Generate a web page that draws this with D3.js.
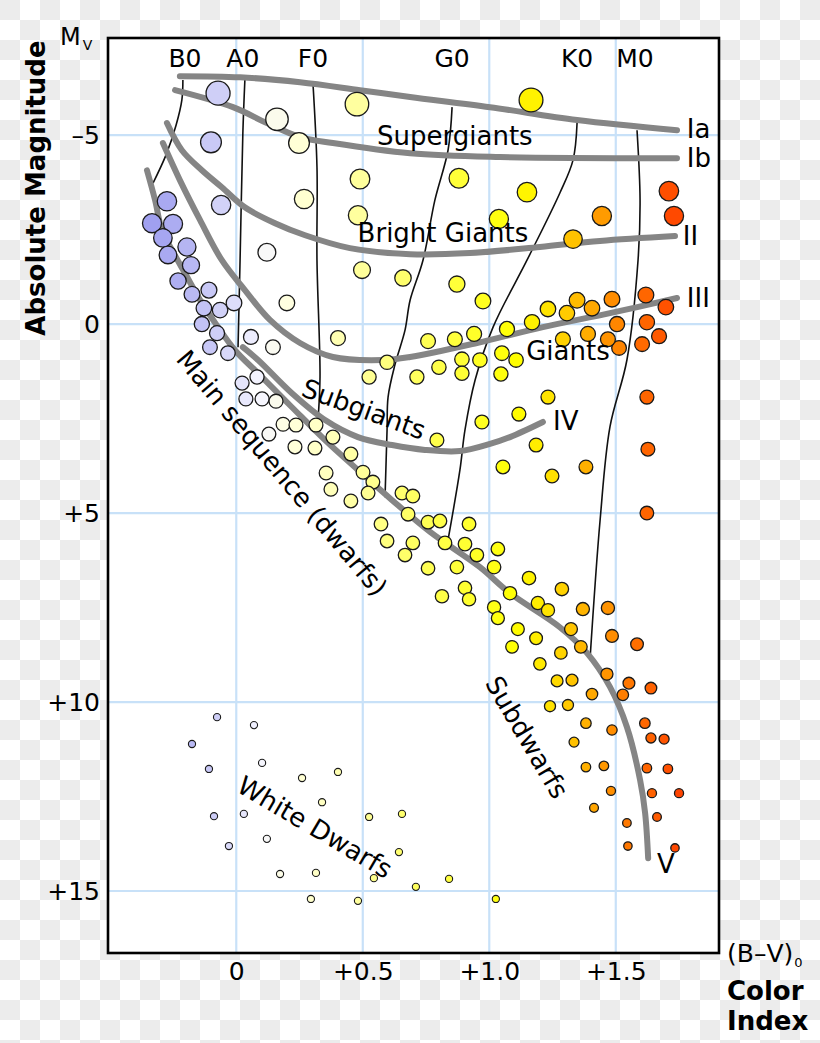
<!DOCTYPE html>
<html><head><meta charset="utf-8">
<script src="https://cdn.jsdelivr.net/npm/d3@7"></script>
<style>
html,body{margin:0;padding:0;background:#fff;}
svg{display:block;font-family:"DejaVu Sans",sans-serif;}
</style></head><body>
<svg id="chart" width="820" height="1043"></svg>
<script>
// ---------- data ----------
const xTicks = [0, 0.5, 1.0, 1.5];
const xTickLabels = ["0", "+0.5", "+1.0", "+1.5"];
const yTicks = [-5, 0, 5, 10, 15];
const yTickLabels = ["–5", "0", "+5", "+10", "+15"];

const spectralTypes = ["B0", "A0", "F0", "G0", "K0", "M0"];
const spectralBV = [-0.203, 0.026, 0.303, 0.853, 1.347, 1.576];
const spectralLabelMag = -6.80;

const classLabels = ["Ia", "Ib", "II", "III", "IV", "V"];
const classBV = [1.781, 1.781, 1.765, 1.781, 1.252, 1.663];
const classMag = [-4.92, -4.15, -2.09, -0.45, 2.80, 14.52];

const regionNames = ["Supergiants", "Bright Giants", "Giants", "Subgiants", "Main sequence (dwarfs)", "Subdwarfs", "White Dwarfs"];
const regionBV = [0.864, 0.817, 1.311, 0.504, 0.181, 1.149, 0.311];
const regionMag = [-4.97, -2.41, 0.71, 2.25, 3.94, 10.93, 13.31];
const regionAngle = [0, 0, 0, 20, 50, 59.5, 30.5];

// luminosity-class sequences [B-V, Mv]
const curveIa = [[-0.223,-6.56],[0.015,-6.53],[0.252,-6.40],[0.489,-6.19],[0.687,-6.01],[1.003,-5.74],[1.347,-5.40],[1.742,-5.13]];
const curveIb = [[-0.242,-6.19],[-0.013,-5.74],[0.121,-5.32],[0.252,-4.95],[0.382,-4.79],[0.687,-4.52],[1.042,-4.42],[1.742,-4.39]];
const curveII = [[-0.274,-5.32],[-0.215,-4.60],[-0.136,-4.07],[-0.057,-3.62],[0.034,-3.09],[0.153,-2.67],[0.272,-2.35],[0.449,-2.01],[0.687,-1.85],[0.924,-1.88],[1.2,-2.04],[1.437,-2.20],[1.734,-2.33]];
const curveIII = [[-0.290,-4.79],[-0.223,-3.81],[-0.143,-2.75],[-0.057,-1.69],[0.034,-0.90],[0.133,-0.11],[0.252,0.50],[0.382,0.87],[0.580,0.95],[0.687,0.87],[0.951,0.50],[1.212,0.08],[1.477,-0.29],[1.742,-0.69]];
const curveIV = [[0.026,0.61],[0.086,0.95],[0.220,1.83],[0.351,2.54],[0.481,2.99],[0.616,3.20],[0.746,3.33],[0.884,3.36],[1.003,3.17],[1.082,2.99],[1.212,2.59]];
const curveV = [[-0.353,-4.07],[-0.321,-3.28],[-0.294,-2.49],[-0.254,-1.96],[-0.203,-1.35],[-0.136,-0.56],[-0.072,0.08],[-0.005,0.69],[0.086,1.30],[0.220,2.20],[0.351,3.07],[0.481,3.86],[0.616,4.66],[0.766,5.50],[0.963,6.43],[1.082,7.12],[1.279,8.02],[1.386,8.70],[1.477,9.60],[1.544,10.66],[1.596,12.06],[1.616,12.94],[1.628,14.13]];

// spectral-type boundary lines
const lineB0 = [[-0.211,-6.46],[-0.215,-5.93],[-0.238,-5.26],[-0.278,-4.47],[-0.329,-3.73]];
const lineA0 = [[0.034,-6.46],[0.026,-5.05],[0.015,-1.69],[0.007,0.61]];
const lineF0 = [[0.303,-6.38],[0.319,-4.15],[0.319,-1.69],[0.331,1.40],[0.323,2.54]];
const lineG0 = [[0.853,-5.74],[0.837,-4.60],[0.785,-3.28],[0.738,-1.69],[0.687,-0.63],[0.667,0.16],[0.627,1.08],[0.600,1.93],[0.596,2.80],[0.588,4.58]];
const lineK0 = [[1.347,-5.32],[1.331,-4.34],[1.279,-3.47],[1.149,-1.69],[1.015,0.08],[0.944,1.48],[0.904,2.80],[0.884,3.86],[0.837,5.71]];
const lineM0 = [[1.584,-5.13],[1.596,-3.28],[1.588,-1.69],[1.544,0.95],[1.477,2.72],[1.438,5.19],[1.398,8.89]];

// stars [B-V, Mv]
const stars = [
[-0.072,-6.11],[0.161,-5.42],[-0.100,-4.81],[0.248,-4.79],[0.477,-5.82],[1.165,-5.93],[0.489,-3.84],[0.880,-3.86],
[1.149,-3.49],[0.268,-3.31],[-0.060,-3.15],[0.481,-2.88],[1.038,-2.78],[1.445,-2.86],[1.331,-2.25],[1.710,-3.52],
[1.730,-2.86],[0.121,-1.90],[-0.274,-3.25],[-0.333,-2.67],[-0.250,-2.65],[-0.290,-2.28],[-0.270,-1.83],[-0.195,-2.04],
[-0.179,-1.56],[-0.230,-1.14],[-0.175,-0.79],[-0.108,-0.90],[-0.128,-0.42],[-0.064,-0.37],[-0.009,-0.56],[-0.136,0],
[-0.076,0.24],[-0.104,0.61],[-0.033,0.77],[0.058,0.34],[0.145,0.61],[0.200,-0.56],[0.023,1.56],[0.082,1.40],
[0.038,1.98],[0.102,1.98],[0.157,2.04],[0.129,2.91],[0.185,2.65],[0.236,2.67],[0.315,2.67],[0.232,3.25],
[0.311,3.28],[0.382,2.99],[0.453,3.44],[0.355,3.94],[0.501,3.92],[0.540,4.18],[0.374,4.37],[0.521,4.47],
[0.453,4.68],[0.655,4.47],[0.698,4.55],[0.679,5.03],[0.572,5.29],[0.596,5.74],[0.667,6.11],[0.758,5.24],
[0.805,5.21],[0.920,5.29],[0.698,5.79],[0.825,5.79],[0.904,5.82],[0.951,6.11],[1.034,5.95],[0.758,6.46],
[0.872,6.43],[1.019,6.43],[0.813,7.20],[0.904,6.98],[0.920,7.28],[1.157,6.72],[1.287,7.01],[1.082,7.12],
[1.192,7.38],[1.232,7.57],[1.370,7.54],[1.469,7.51],[1.019,7.49],[1.034,7.78],[1.113,8.07],[1.185,8.31],
[1.323,8.07],[1.485,8.25],[1.584,8.47],[1.090,8.54],[1.283,8.70],[1.362,8.54],[1.200,8.99],[1.465,9.26],
[1.552,9.50],[1.639,9.63],[1.528,9.81],[1.268,9.44],[1.327,9.42],[1.406,9.79],[1.240,10.11],[1.311,10.08],
[1.382,10.56],[1.485,10.74],[1.615,10.56],[1.639,10.95],[1.691,10.98],[1.335,11.06],[1.382,11.72],[1.453,11.69],
[1.623,11.75],[1.706,11.77],[1.481,12.35],[1.414,12.80],[1.643,12.41],[1.750,12.41],[1.663,13.04],[1.544,13.20],
[1.548,13.81],[1.734,13.86],[0.402,0.37],[0.596,1.01],[0.525,1.40],[0.714,1.40],[0.497,-1.43],[0.659,-1.22],
[0.872,-1.06],[0.975,-0.61],[0.758,0.45],[0.864,0.40],[0.940,0.26],[1.070,0.13],[1.169,-0.05],[1.232,-0.40],
[1.307,-0.29],[1.347,-0.63],[1.406,-0.42],[1.485,-0.66],[1.619,-0.77],[1.698,-0.45],[1.505,0],[1.623,-0.05],
[1.671,0.32],[1.604,0.53],[1.513,0.63],[1.469,0.40],[1.390,0.26],[1.291,0.40],[0.801,1.14],[0.892,0.93],
[0.892,1.30],[0.963,0.95],[1.050,0.77],[1.106,0.95],[1.046,1.32],[1.232,1.93],[1.117,2.38],[0.971,2.59],
[0.793,3.07],[1.185,3.20],[1.054,3.78],[1.248,4.02],[1.382,3.78],[1.623,1.93],[1.627,3.31],[1.623,5.00]
];

const whiteDwarfs = [
[-0.076,10.40],[0.070,10.61],[-0.175,11.11],[0.102,11.61],[-0.108,11.77],[0.260,12.01],[0.402,11.85],[-0.088,13.02],
[0.030,12.96],[-0.029,13.81],[0.121,13.62],[0.339,12.65],[0.525,13.04],[0.655,12.96],[0.643,13.97],[0.173,14.55],
[0.315,14.52],[0.544,14.66],[0.295,15.21],[0.481,15.26],[0.841,14.68],[0.710,14.89],[1.026,15.21]
];

// ---------- drawing ----------
const svg = d3.select("#chart");
const W = 820, H = 1043;
const plot = {left: 108, top: 38, right: 719, bottom: 953};

const x = d3.scaleLinear().domain([-0.507, 1.908]).range([plot.left, plot.right]);
const y = d3.scaleLinear().domain([-7.57, 16.64]).range([plot.top, plot.bottom]);

const color = d3.scaleLinear()
  .domain([-0.35, -0.2, -0.05, 0.1, 0.2, 0.35, 0.5, 0.7, 0.9, 1.1, 1.25, 1.35, 1.45, 1.55, 1.65, 1.75])
  .range(['#9d9df0', '#b4b4f2', '#d4d4f8', '#f6f6ff', '#ffffe0', '#ffffc0', '#ffff99', '#ffff60', '#ffff33', '#ffff00', '#ffe000', '#ffbb00', '#ff9900', '#ff7700', '#ff5f00', '#ff4400'])
  .interpolate(d3.interpolateRgb).clamp(true);
const radius = d3.scaleLinear()
  .domain([-6, -4.5, -2.5, -1, 1.5, 7, 9, 11, 13.5])
  .range([12, 10, 9.5, 8, 7, 6.7, 6.2, 5, 4.2]).clamp(true);

// checkerboard background
const defs = svg.append("defs");
const pat = defs.append("pattern").attr("id", "checker").attr("width", 40).attr("height", 40)
  .attr("patternUnits", "userSpaceOnUse");
pat.append("rect").attr("width", 40).attr("height", 40).attr("fill", "#ffffff");
pat.append("rect").attr("width", 20).attr("height", 20).attr("fill", "#ececec");
pat.append("rect").attr("x", 20).attr("y", 20).attr("width", 20).attr("height", 20).attr("fill", "#ececec");
svg.append("rect").attr("width", W).attr("height", H).attr("fill", "url(#checker)");

svg.append("rect").attr("x", plot.left).attr("y", plot.top)
  .attr("width", plot.right - plot.left).attr("height", plot.bottom - plot.top).attr("fill", "#fff");

// grid
const grid = svg.append("g").attr("stroke", "#c8e1f8").attr("stroke-width", 2.2);
grid.selectAll("line.gx").data(xTicks).join("line").attr("class", "gx")
  .attr("x1", d => x(d)).attr("x2", d => x(d)).attr("y1", plot.top).attr("y2", plot.bottom);
grid.selectAll("line.gy").data(yTicks).join("line").attr("class", "gy")
  .attr("y1", d => y(d)).attr("y2", d => y(d)).attr("x1", plot.left).attr("x2", plot.right);

const line = d3.line().x(d => x(d[0])).y(d => y(d[1])).curve(d3.curveCatmullRom.alpha(0.5));

// spectral type boundaries
svg.append("g").selectAll("path").data([lineB0, lineA0, lineF0, lineG0, lineK0, lineM0]).join("path")
  .attr("d", line).attr("fill", "none").attr("stroke", "#111").attr("stroke-width", 1.6);

// luminosity class sequences
svg.append("g").selectAll("path").data([curveIa, curveIb, curveII, curveIII, curveIV, curveV]).join("path")
  .attr("d", line).attr("fill", "none").attr("stroke", "#858585").attr("stroke-width", 6)
  .attr("stroke-linecap", "round");

// stars
svg.append("g").selectAll("circle").data(stars).join("circle")
  .attr("cx", d => x(d[0])).attr("cy", d => y(d[1])).attr("r", d => radius(d[1]))
  .attr("fill", d => color(d[0])).attr("stroke", "#1a1a1a").attr("stroke-width", 1.3);

svg.append("g").selectAll("circle").data(whiteDwarfs).join("circle")
  .attr("cx", d => x(d[0])).attr("cy", d => y(d[1])).attr("r", 3.6)
  .attr("fill", d => color(d[0])).attr("stroke", "#1a1a1a").attr("stroke-width", 1.1);

// frame
svg.append("rect").attr("x", plot.left).attr("y", plot.top)
  .attr("width", plot.right - plot.left).attr("height", plot.bottom - plot.top)
  .attr("fill", "none").attr("stroke", "#000").attr("stroke-width", 2.6);

// axes (labels only)
const xAxis = d3.axisBottom(x).tickValues(xTicks).tickFormat((d, i) => xTickLabels[i]).tickSize(0).tickPadding(9);
const gx = svg.append("g").attr("transform", `translate(0,${plot.bottom})`).call(xAxis);
const yAxis = d3.axisLeft(y).tickValues(yTicks).tickFormat((d, i) => yTickLabels[i]).tickSize(0).tickPadding(8);
const gy = svg.append("g").attr("transform", `translate(${plot.left},0)`).call(yAxis);
[gx, gy].forEach(g => {
  g.select(".domain").remove();
  g.selectAll("text").attr("font-family", "DejaVu Sans").attr("font-size", 25).attr("fill", "#000");
});

// spectral type labels
svg.append("g").selectAll("text").data(spectralTypes).join("text")
  .attr("x", (d, i) => x(spectralBV[i])).attr("y", y(spectralLabelMag))
  .attr("text-anchor", "middle").attr("font-size", 25).text(d => d);

// luminosity class labels
svg.append("g").selectAll("text").data(classLabels).join("text")
  .attr("x", (d, i) => x(classBV[i])).attr("y", (d, i) => y(classMag[i]))
  .attr("font-size", 26).text(d => d);

// region labels
svg.append("g").selectAll("text").data(regionNames).join("text")
  .attr("transform", (d, i) => `translate(${x(regionBV[i])},${y(regionMag[i])}) rotate(${regionAngle[i]})`)
  .attr("text-anchor", "middle").attr("dy", "0.35em").attr("font-size", 26).text(d => d);

// axis titles
svg.append("text").attr("transform", `translate(45,188) rotate(-90)`)
  .attr("text-anchor", "middle").attr("font-size", 26).attr("font-weight", "bold").text("Absolute Magnitude");
const mv = svg.append("text").attr("x", 60).attr("y", 45).attr("font-size", 24);
mv.append("tspan").text("M");
mv.append("tspan").attr("font-size", 14).attr("dx", 2).attr("dy", 5).text("V");

const bv = svg.append("text").attr("x", 727).attr("y", 962).attr("font-size", 25);
bv.append("tspan").text("(B–V)");
bv.append("tspan").attr("font-size", 13).attr("dx", 1).attr("dy", 5).text("0");
svg.append("text").attr("x", 727).attr("y", 1000).attr("font-size", 26).attr("font-weight", "bold").text("Color");
svg.append("text").attr("x", 727).attr("y", 1030).attr("font-size", 26).attr("font-weight", "bold").text("Index");
</script>
</body></html>
